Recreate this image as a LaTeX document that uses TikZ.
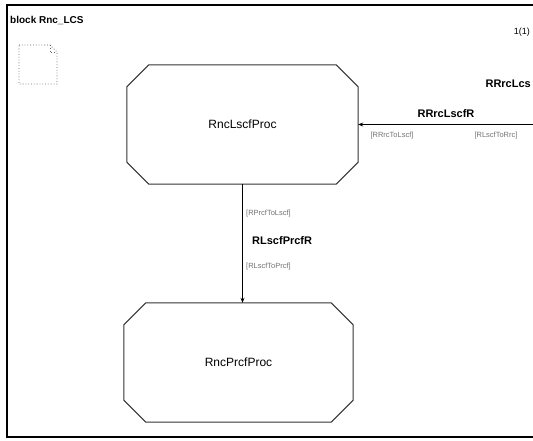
\documentclass[tikz,border=0pt]{standalone}
\usepackage{fontspec}
\setmainfont{Liberation Sans}
\usetikzlibrary{arrows.meta}
\tikzset{
  boxline/.style={line width=1pt, draw=black!80},
  procbox/.style={draw=none, minimum width=#1, minimum height=119pt, inner sep=0pt, font=\fontsize{12}{14}\selectfont},
  chanline/.style={line width=1.3pt, draw=black},
  chanlabel/.style={font=\bfseries\fontsize{11}{13}\selectfont, inner sep=0pt},
  siglist/.style={font=\fontsize{7.5}{9}\selectfont, text=black!55, inner sep=0pt},
  tip/.style={-{Stealth[length=5pt,width=4pt]}}
}
\begin{document}
\begin{tikzpicture}[x=1pt,y=-1pt]
\useasboundingbox (0,0) rectangle (533,441);
\begin{scope}
\clip (0,0) rectangle (533,441);
% frame
\draw[line width=1.3pt] (545,5) -- (7,5) -- (7,437) -- (545,437);
\node[anchor=west, font=\bfseries\fontsize{10}{12}\selectfont, inner sep=0pt] (title) at (10,20) {block Rnc\_LCS};
\node[anchor=east, font=\fontsize{9}{11}\selectfont, inner sep=0pt] (page) at (530,32) {1(1)};
% text symbol
\draw[dotted, line width=0.8pt, black!60] (19,45) -- (50,45) -- (57,52) -- (57,84) -- (19,84) -- cycle;
\draw[dotted, line width=0.8pt, black!60] (50,45) -- (50,52) -- (57,52);
% process boxes
\node[procbox=231pt] (lsc) at (242.5,124.5) {RncLscfProc};
\node[procbox=229pt] (prc) at (238.5,362.5) {RncPrcfProc};
\foreach \b in {lsc,prc}{
  \draw[boxline]
    ([xshift=22pt]\b.north west) -- ([xshift=-22pt]\b.north east)
    -- ([yshift=-22pt]\b.north east) -- ([yshift=22pt]\b.south east)
    -- ([xshift=-22pt]\b.south east) -- ([xshift=22pt]\b.south west)
    -- ([yshift=22pt]\b.south west) -- ([yshift=-22pt]\b.north west) -- cycle;
}
% channels
\coordinate (rrc) at (545,124.5);
\draw[chanline, tip] (rrc) -- (lsc.east);
\draw[chanline, tip] (lsc.south) -- (lsc.south |- prc.north);
\node[chanlabel] (rrclab) at (446,114) {RRrcLscfR};
\node[siglist] (s1) at (392,136) {[RRrcToLscf]};
\node[siglist] (s2) at (496,136) {[RLscfToRrc]};
\node[chanlabel, anchor=east] (rrc2) at (531,84) {RRrcLcs};
\node[siglist, anchor=west] (s3) at (246,214) {[RPrcfToLscf]};
\node[chanlabel, anchor=west] (plab) at (252,241) {RLscfPrcfR};
\node[siglist, anchor=west] (s4) at (246,267) {[RLscfToPrcf]};
\end{scope}
\end{tikzpicture}
\end{document}
